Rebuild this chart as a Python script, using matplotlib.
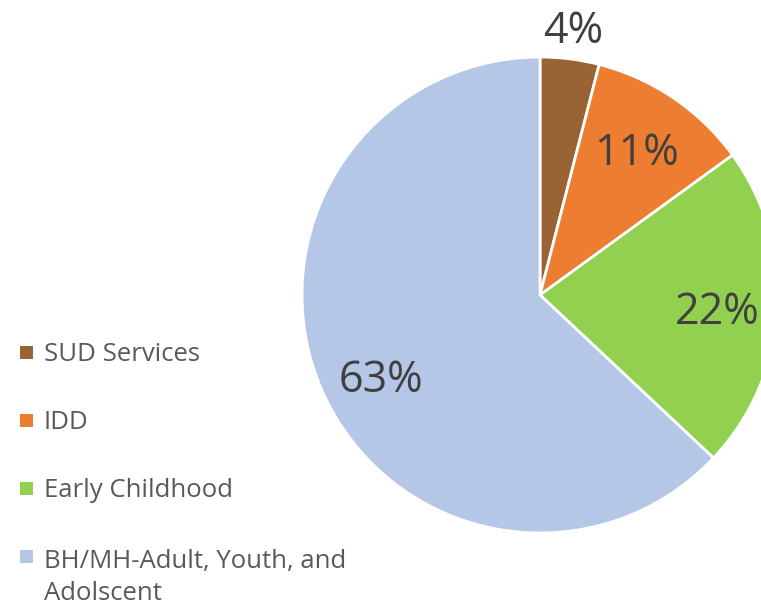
import numpy as np
import matplotlib
matplotlib.use("Agg")
import matplotlib.pyplot as plt
from matplotlib.patches import Rectangle

# Funding share by program area
categories = ["SUD Services", "IDD", "Early Childhood", "BH/MH-Adult, Youth, and\nAdolscent"]
shares = [4, 11, 22, 63]
colors = ["#9A6333", "#ED7D31", "#92D050", "#B4C7E7"]

plt.rcParams["font.family"] = ["Open Sans", "DejaVu Sans"]

W, H = 761, 604
fig = plt.figure(figsize=(W / 100, H / 100), dpi=100)
ax = fig.add_axes([0, 0, 1, 1])

cx, cy, r = 540, H - 295, 238
wedges, texts, autotexts = ax.pie(
    shares, colors=colors, startangle=90, counterclock=False,
    center=(cx, cy), radius=r, autopct="%d%%", pctdistance=0.74,
    wedgeprops=dict(edgecolor="white", linewidth=2),
    textprops=dict(fontsize=31, color="#404040"),
    frame=True,
)
ax.set_xlim(0, W)
ax.set_ylim(0, H)
ax.set_aspect("equal")
ax.axis("off")


def place(txt, wedge, dist, dtheta=0.0):
    mid = np.deg2rad((wedge.theta1 + wedge.theta2) / 2 + dtheta)
    txt.set_position((cx + dist * r * np.cos(mid), cy + dist * r * np.sin(mid)))


# Small slice: percentage sits outside the pie
place(autotexts[0], wedges[0], 1.115)
place(autotexts[1], wedges[1], 0.72)
place(autotexts[2], wedges[2], 0.75, -2.0)
place(autotexts[3], wedges[3], 0.76, 5.0)

# Legend: colour squares with labels stacked on the left
y0, step, line_h = H - 352, 68, 35
for i, (lab, col) in enumerate(zip(categories, colors)):
    y = y0 - i * step
    ax.add_patch(Rectangle((20, y - 6.5), 13, 13, facecolor=col, edgecolor="none"))
    extra_lines = lab.count("\n")
    # baseline anchor refers to the last line of a multi-line label
    ax.text(44, y - 9 - extra_lines * line_h, lab, fontsize=18.5, color="#595959",
            ha="left", va="baseline", linespacing=1.35)

fig.savefig("out.png", dpi=100)
